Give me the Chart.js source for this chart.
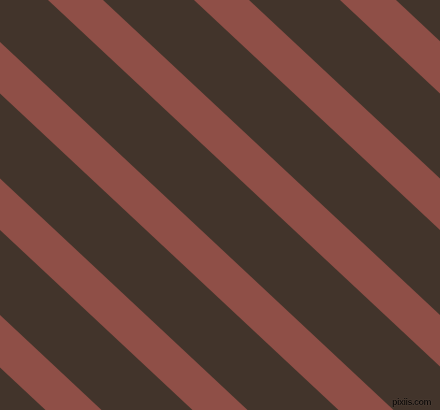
<!DOCTYPE html>
<html>
<head>
<meta charset="utf-8">
<script src="https://cdn.jsdelivr.net/npm/chart.js@4.4.1/dist/chart.umd.min.js"></script>
<style>
    html, body { margin: 0; padding: 0; background: #42342b; }
    #wrap { position: relative; width: 440px; height: 410px; overflow: hidden; }
    #stripes { display: block; background: #42342b; }
    #mark {
        position: absolute; right: 9px; bottom: 3px; line-height: 10px;
        font-family: "Liberation Sans", sans-serif; font-size: 9px; font-weight: bold;
        color: #0e0a08; text-shadow: 0 0 1px #7a6a60;
        letter-spacing: -0.5px;
    }
</style>
</head>
<body>
<div id="wrap">
    <canvas id="stripes" width="440" height="410"></canvas>
    <div id="mark">pixiis.com</div>
</div>
<script>
// where each stripe's edges meet the top border (x at y = 0)
const stripeStart = [-393, -246, -100, 48, 194, 340];
const stripeEnd = [-337, -191, -45, 103, 249, 396];
// rise per pixel of run for every stripe edge
const slope = 0.935;
const picWidth = 440;
const picHeight = 410;

const stripeColor = '#8f4f47';

// Build one closed shape per stripe from its two edges
function stripeShape(x0, x1) {
    return [
        { x: x0, y: 0 },
        { x: x1, y: 0 },
        { x: x1 + picHeight / slope, y: picHeight },
        { x: x0 + picHeight / slope, y: picHeight },
        { x: x0, y: 0 }
    ];
}

const datasets = stripeStart.map(function (x0, i) {
    return {
        label: 'stripe ' + (i + 1),
        data: stripeShape(x0, stripeEnd[i]),
        backgroundColor: stripeColor,
        borderColor: stripeColor,
        borderWidth: 0,
        pointRadius: 0,
        tension: 0,
        fill: 'shape'
    };
});

const ctx = document.getElementById('stripes').getContext('2d');
new Chart(ctx, {
    type: 'line',
    data: { datasets: datasets },
    options: {
        responsive: false,
        animation: false,
        layout: { padding: 0 },
        plugins: {
            legend: { display: false },
            tooltip: { enabled: false },
            title: { display: false }
        },
        scales: {
            x: { type: 'linear', min: 0, max: picWidth, display: false },
            y: { type: 'linear', min: 0, max: picHeight, reverse: true, display: false }
        }
    }
});
</script>
</body>
</html>
